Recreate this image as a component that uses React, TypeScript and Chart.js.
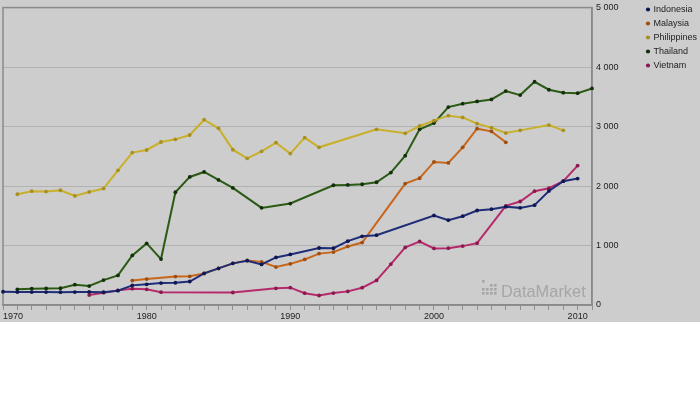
import { useEffect, useRef } from 'react';
import { Chart, registerables } from 'chart.js';

Chart.register(...registerables);

const years = [
  1970, 1971, 1972, 1973, 1974, 1975, 1976, 1977, 1978, 1979,
  1980, 1981, 1982, 1983, 1984, 1985, 1986, 1987, 1988, 1989,
  1990, 1991, 1992, 1993, 1994, 1995, 1996, 1997, 1998, 1999,
  2000, 2001, 2002, 2003, 2004, 2005, 2006, 2007, 2008, 2009,
  2010, 2011,
];
const labeledYears = [1970, 1980, 1990, 2000, 2010];
const yTicks = [0, 1000, 2000, 3000, 4000, 5000];

const indonesia = [
  223, 218, 218, 218, 215, 218, 220, 215, 240, 330,
  347, 369, 374, 395, 532, 615, 700, 745, 683, 800,
  850, null, 958, 954, 1073, 1155, 1174, null, null, null,
  1505, 1426, 1493, 1589, 1611, 1650, 1633, 1678, 1918, 2081,
  2125, null,
];
const malaysia = [
  null, null, null, null, null, null, null, null, null, 410,
  436, null, 478, 482, 530, 615, 700, 748, 725, 638,
  692, 766, 864, 889, 984, 1050, null, null, 2041, 2131,
  2405, 2388, 2651, 2964, 2919, 2735, null, null, null, null,
  null, null,
];
const philippines = [
  null, 1862, 1913, 1907, 1929, 1834, 1901, 1957, 2265, 2562,
  2606, 2740, 2785, 2858, 3115, 2970, 2612, 2466, 2584, 2730,
  2545, 2813, 2651, null, null, null, 2953, null, 2886, 3009,
  3099, 3183, 3154, 3049, 2981, 2891, 2936, null, 3025, 2936,
  null, null,
];
const thailand = [
  null, 263, 274, 278, 282, 341, 319, 419, 498, 834,
  1035, 772, 1896, 2153, 2237, 2103, 1969, null, 1633, null,
  1706, null, null, 2013, 2019, 2030, 2064, 2226, 2511, 2953,
  3059, 3327, 3384, 3423, 3456, 3596, 3529, 3753, 3619, 3569,
  3562, 3641,
];
const vietnam = [
  null, null, null, null, null, null, 168, 207, 246, 274,
  263, 215, null, null, null, null, 210, null, null, 280,
  291, 198, 160, 201, 229, 291, 414, 688, 968, 1068,
  951, 956, 990, 1040, null, 1667, 1740, 1913, 1963, 2081,
  2344, null,
];

const seriesNames = ['Indonesia', 'Malaysia', 'Philippines', 'Thailand', 'Vietnam'];
const seriesValues = [indonesia, malaysia, philippines, thailand, vietnam];
const lineColors = ['#1f2d78', '#c8671c', '#c9b02a', '#2b5a14', '#b62a6c'];
const dotColors = ['#0f1852', '#a04e10', '#a89020', '#12300a', '#8d1850'];

const FONT = "'Liberation Sans', Arial, sans-serif";

const fmt = (v: number) => String(v).replace(/\B(?=(\d{3})+(?!\d))/g, ' ');

const bgPlugin = {
  id: 'bgPlugin',
  beforeDraw(chart: any) {
    const { ctx, width, height } = chart;
    ctx.save();
    ctx.fillStyle = '#ffffff';
    ctx.fillRect(0, 0, width, height);
    ctx.fillStyle = '#cdcdcd';
    ctx.fillRect(0, 0, width, 322);
    ctx.restore();
  },
  beforeDatasetsDraw(chart: any) {
    const { ctx, chartArea } = chart;
    const { left, top, right, bottom } = chartArea;
    ctx.save();
    // watermark
    ctx.fillStyle = '#a6a6a6';
    const dots: Array<[number, number]> = [
      [0, 0], [0, 2], [0, 3],
      [1, 2], [1, 3],
      [2, 1], [2, 2], [2, 3],
      [3, 1], [3, 2], [3, 3],
    ];
    const bx = right - 110;
    const by = bottom - 25;
    dots.forEach(([c, r]) => ctx.fillRect(bx + c * 4, by + r * 4, 2.6, 2.6));
    ctx.font = `16.4px ${FONT}`;
    ctx.textBaseline = 'alphabetic';
    ctx.textAlign = 'left';
    ctx.fillText('DataMarket', bx + 19, bottom - 8.5);
    // frame
    ctx.strokeStyle = '#8a8a8a';
    ctx.lineWidth = 1.5;
    ctx.strokeRect(left, top, right - left, bottom - top);
    ctx.restore();
  },
};

export default function App() {
  const ref = useRef<HTMLCanvasElement | null>(null);

  useEffect(() => {
    if (!ref.current) return;
    const chart = new Chart(ref.current, {
      type: 'line',
      data: {
        labels: years.map(String),
        datasets: seriesNames.map((name, i) => ({
          label: name,
          data: seriesValues[i],
          borderColor: lineColors[i],
          backgroundColor: dotColors[i],
          pointBackgroundColor: dotColors[i],
          pointBorderColor: dotColors[i],
          pointBorderWidth: 0,
          pointRadius: 1.9,
          pointHoverRadius: 1.9,
          borderWidth: 2,
          tension: 0,
          spanGaps: true,
          fill: false,
        })),
      },
      options: {
        responsive: false,
        animation: false,
        events: [],
        layout: { padding: { left: 3, top: 0, right: 0, bottom: 98 } },
        plugins: {
          tooltip: { enabled: false },
          legend: {
            position: 'right',
            align: 'start',
            maxWidth: 58,
            labels: {
              usePointStyle: true,
              pointStyle: 'circle',
              boxWidth: 2,
              boxHeight: 3,
              padding: 5,
              color: '#222',
              font: { family: FONT, size: 9 },
            },
          },
        },
        scales: {
          x: {
            type: 'category',
            offset: false,
            grid: {
              display: true,
              drawOnChartArea: false,
              drawTicks: true,
              tickLength: 5,
              color: '#8f8f8f',
              offset: false,
            },
            border: { display: true, color: '#8a8a8a', width: 1.5 },
            ticks: {
              autoSkip: false,
              maxRotation: 0,
              minRotation: 0,
              align: 'inner',
              padding: 1,
              color: '#222',
              font: { family: FONT, size: 9 },
              callback: (_v: any, idx: number) =>
                labeledYears.includes(years[idx]) ? String(years[idx]) : '',
            },
            afterFit: (s: any) => { s.height = 17; },
          },
          y: {
            position: 'right',
            min: yTicks[0],
            max: yTicks[yTicks.length - 1],
            afterBuildTicks: (s: any) => { s.ticks = yTicks.map((v) => ({ value: v })); },
            grid: { color: '#b2b2b2', lineWidth: 1, drawTicks: false },
            border: { display: true, color: '#8a8a8a', width: 1.5 },
            ticks: {
              padding: 4,
              color: '#222',
              font: { family: FONT, size: 9, lineHeight: 0.8 },
              callback: (v: any) => fmt(Number(v)),
            },
            afterFit: (s: any) => { s.width = 50; },
          },
        },
      },
      plugins: [bgPlugin],
    } as any);
    return () => chart.destroy();
  }, []);

  return (
    <div style={{ position: 'fixed', left: 0, top: 0, width: 700, height: 420 }}>
      <canvas ref={ref} width={700} height={420} style={{ display: 'block' }} />
    </div>
  );
}
